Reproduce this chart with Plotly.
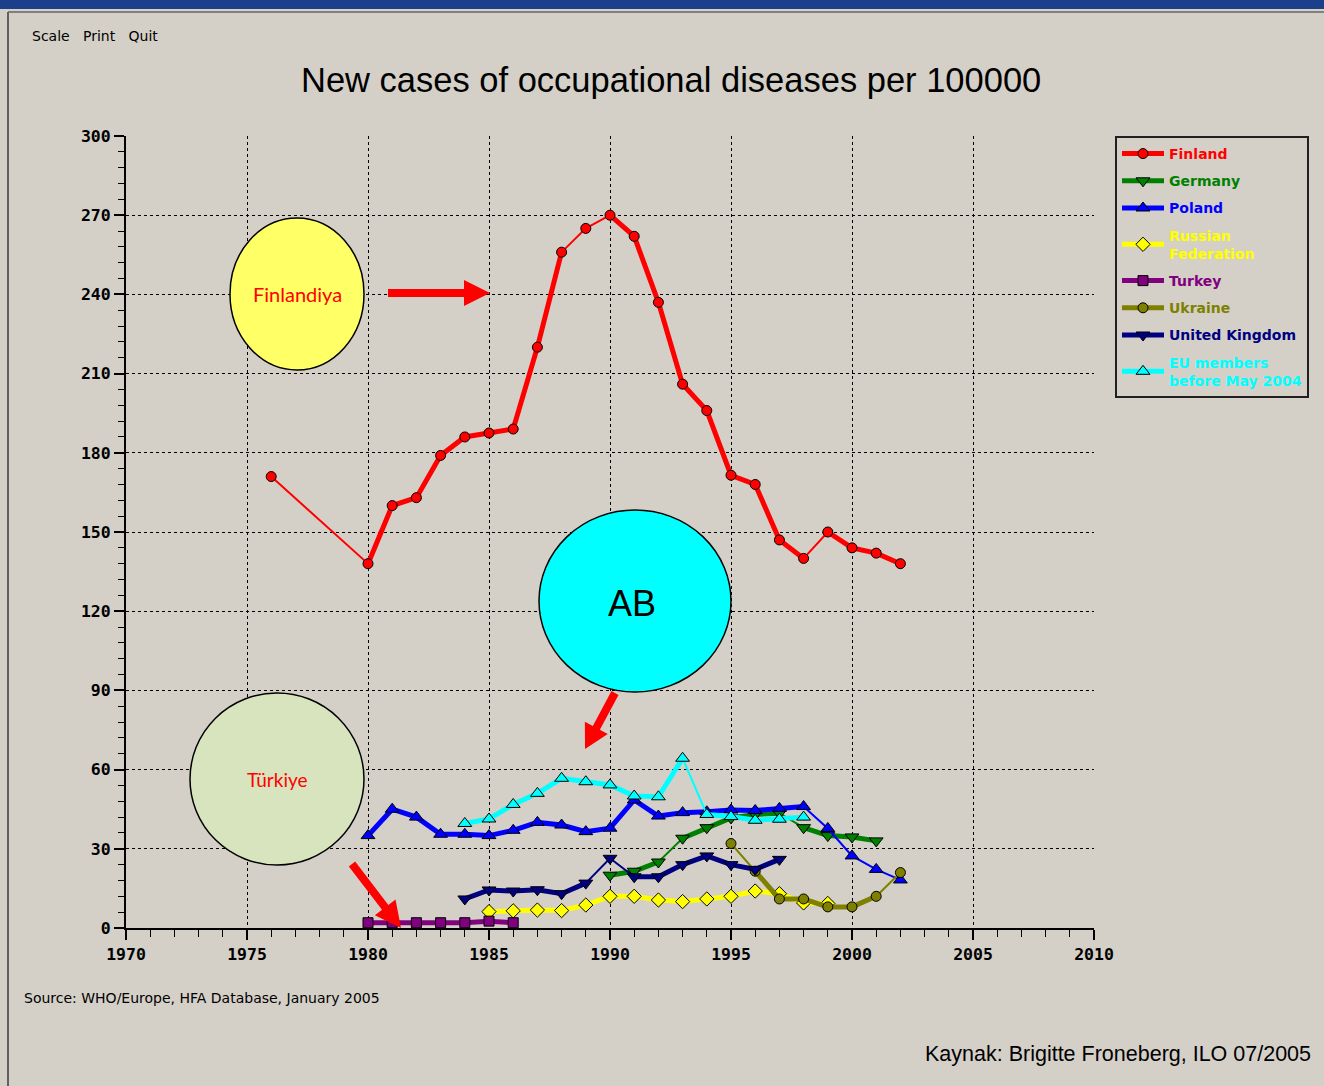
import math
import plotly.graph_objects as go

# ---------------- data ----------------
fin_years = [1976, 1980, 1981, 1982, 1983, 1984, 1985, 1986, 1987, 1988, 1989, 1990,
             1991, 1992, 1993, 1994, 1995, 1996, 1997, 1998, 1999, 2000, 2001, 2002]
fin_vals = [171, 138, 160, 163, 179, 186, 187.5, 189, 220, 256, 265, 270,
            262, 237, 206, 196, 171.5, 168, 147, 140, 150, 144, 142, 138]

ger_years = [1990, 1991, 1992, 1993, 1994, 1995, 1996, 1997, 1998, 1999, 2000, 2001]
ger_vals = [20, 21.5, 25, 34, 38, 41.7, 43, 43.5, 38, 35, 34.5, 33]

pol_years = list(range(1980, 2003))
pol_vals = [35, 45, 42, 35.5, 35.5, 35, 37, 40, 39, 36.5, 37.8, 48.5,
            42.4, 43.7, 44, 44.7, 44.5, 45.3, 46, 37.7, 27.3, 22.2, 18.2]

rus_years = list(range(1985, 2000))
rus_vals = [6.2, 6.5, 6.8, 6.6, 8.7, 12, 12, 10.6, 10, 11, 12, 14, 13, 9.5, 9.3]

tur_years = [1980, 1981, 1982, 1983, 1984, 1985, 1986]
tur_vals = [2, 2, 2, 2, 2, 2.6, 2]

ukr_years = [1995, 1996, 1997, 1998, 1999, 2000, 2001, 2002]
ukr_vals = [32, 21.5, 11, 11, 8, 8, 12, 21]

uk_years = [1984, 1985, 1986, 1987, 1988, 1989, 1990, 1991, 1992, 1993, 1994, 1995, 1996, 1997]
uk_vals = [11, 14.4, 14, 14.5, 13, 17, 26.4, 19.4, 19.4, 24, 27.3, 24, 22.2, 26]

eu_years = [1984, 1985, 1986, 1987, 1988, 1989, 1990, 1991, 1992, 1993, 1994, 1995, 1996, 1997, 1998]
eu_vals = [39.6, 41.3, 46.8, 51, 56.7, 55.4, 54.2, 50, 49.7, 64.3, 43, 42.2, 40.8, 41.2, 42]

x_ticks = [1970, 1975, 1980, 1985, 1990, 1995, 2000, 2005, 2010]
y_ticks = [0, 30, 60, 90, 120, 150, 180, 210, 240, 270, 300]

# (name, years, values, color, symbol, size, years where the following segment is thin)
series = [
    ("Finland", fin_years, fin_vals, "#ff0000", "circle", 10, [1976, 1988, 1989, 1998]),
    ("Germany", ger_years, ger_vals, "#008000", "triangle-down", 12, [1992, 1997]),
    ("Poland", pol_years, pol_vals, "#0000ff", "triangle-up", 12, [1998, 1999, 2000, 2001]),
    ("Russian<br>Federation", rus_years, rus_vals, "#ffff00", "diamond", 11, []),
    ("Turkey", tur_years, tur_vals, "#800080", "square", 10, []),
    ("Ukraine", ukr_years, ukr_vals, "#808000", "circle", 10, [1995, 2001]),
    ("United Kingdom", uk_years, uk_vals, "#000080", "triangle-down", 12, [1989, 1990]),
    ("EU members<br>before May 2004", eu_years, eu_vals, "#00ffff", "triangle-up", 12, [1993]),
]

# ---------------- geometry helpers ----------------
W, H = 1324, 1086
L, R, T, B = 126, 1094, 136, 928
BG = "#d4d0c8"


def px(x):
    return (x - L) / (R - L)


def py(y):
    return (B - y) / (B - T)


fig = go.Figure()

for name, yrs, vals, col, sym, sz, thin in series:
    fig.add_trace(go.Scatter(x=yrs, y=vals, mode="lines", line=dict(color=col, width=2),
                             showlegend=False, hoverinfo="skip"))
    xs, ys = [], []
    for i, (xx, yy) in enumerate(zip(yrs, vals)):
        xs.append(xx)
        ys.append(yy)
        if xx in thin and i < len(yrs) - 1:
            xs.append(None)
            ys.append(None)
    fig.add_trace(go.Scatter(
        x=xs, y=ys, mode="lines+markers", connectgaps=False,
        name="<b><span style='color:%s'>%s</span></b>" % (col, name),
        legendgroup=name,
        line=dict(color=col, width=5),
        marker=dict(symbol=sym, size=sz, color=col, line=dict(color="black", width=1)),
    ))

shapes = []
annotations = []

# window chrome
shapes.append(dict(type="rect", xref="paper", yref="paper", x0=px(0), x1=px(W), y0=py(0), y1=py(9),
                   fillcolor="#1c3f8c", line=dict(width=0), layer="below"))
shapes.append(dict(type="line", xref="paper", yref="paper", x0=px(8), x1=px(W), y0=py(12), y1=py(12),
                   line=dict(color="#808080", width=2)))
shapes.append(dict(type="line", xref="paper", yref="paper", x0=px(8), x1=px(8), y0=py(12), y1=py(H),
                   line=dict(color="#606060", width=2)))


def circle(cx, cy, rx, ry, fill):
    shapes.append(dict(type="circle", xref="paper", yref="paper",
                       x0=px(cx - rx), x1=px(cx + rx), y0=py(cy + ry), y1=py(cy - ry),
                       fillcolor=fill, line=dict(color="black", width=1.5), layer="above"))


def arrow(x0, y0, x1, y1, sw, hl, hw):
    dx, dy = x1 - x0, y1 - y0
    ln = math.hypot(dx, dy)
    ux, uy = dx / ln, dy / ln
    nx, ny = -uy, ux
    bx, by = x1 - ux * hl, y1 - uy * hl
    pts = [
        (x0 + nx * sw / 2, y0 + ny * sw / 2),
        (bx + nx * sw / 2, by + ny * sw / 2),
        (bx + nx * hw, by + ny * hw),
        (x1, y1),
        (bx - nx * hw, by - ny * hw),
        (bx - nx * sw / 2, by - ny * sw / 2),
        (x0 - nx * sw / 2, y0 - ny * sw / 2),
    ]
    path = "M " + " L ".join("%f,%f" % (px(a), py(b)) for a, b in pts) + " Z"
    shapes.append(dict(type="path", xref="paper", yref="paper", path=path,
                       fillcolor="#ff0000", line=dict(width=0), layer="above"))


circle(297, 294, 67, 76, "#ffff66")
circle(635, 601, 96, 91, "#00ffff")
circle(277, 779, 87, 86, "#d7e4bd")
arrow(388, 293, 490, 293, 8, 26, 13)
arrow(615, 693, 585, 749, 8, 24, 13)
arrow(352, 864, 401, 928, 8, 26, 13)


def text(x, y, s, size, color="black", family="Liberation Sans", xanchor="center"):
    annotations.append(dict(x=px(x), y=py(y), xref="paper", yref="paper", text=s, showarrow=False,
                            font=dict(size=size, color=color, family=family),
                            xanchor=xanchor, yanchor="middle"))


text(297, 294, "Finlandiya", 20, "#ff0000", "Lato")
text(632, 603, "AB", 36, "black", "Liberation Sans")
text(277, 779, "Türkiye", 19, "#ff0000", "Lato")
text(671, 80, "New cases of occupational diseases per 100000", 34.5, "black", "Liberation Sans")
text(30, 36, "Scale&nbsp;&nbsp;&nbsp;Print&nbsp;&nbsp;&nbsp;Quit", 14, "black", "DejaVu Sans", "left")
text(22, 998, "Source: WHO/Europe, HFA Database, January 2005", 14, "black", "DejaVu Sans", "left")
text(1313, 1054, "Kaynak: Brigitte Froneberg, ILO 07/2005", 21.5, "black", "Liberation Sans", "right")

tickfont = dict(family="DejaVu Sans Mono", size=16.5, color="black", weight="bold")

fig.update_layout(
    width=W, height=H,
    margin=dict(l=L, r=W - R, t=T, b=H - B, pad=0),
    paper_bgcolor=BG, plot_bgcolor=BG,
    showlegend=True,
    legend=dict(x=px(1115), y=1, xanchor="left", yanchor="top",
                bgcolor=BG, bordercolor="#202020", borderwidth=2,
                font=dict(family="DejaVu Sans", size=14),
                itemwidth=42,
                tracegroupgap=6, itemclick=False),
    shapes=shapes, annotations=annotations,
    xaxis=dict(range=[1970, 2010], tickvals=x_ticks, ticktext=[str(v) for v in x_ticks],
               showgrid=True, gridcolor="black", griddash="dot", gridwidth=1,
               showline=True, linecolor="black", linewidth=2, zeroline=False,
               ticks="outside", ticklen=10, tickcolor="black", tickwidth=2,
               tickfont=tickfont,
               minor=dict(dtick=1, tick0=1970, ticks="outside", ticklen=7, tickcolor="black",
                          tickwidth=1, showgrid=False)),
    yaxis=dict(range=[0, 300], tickvals=y_ticks, ticktext=[str(v) for v in y_ticks],
               showgrid=True, gridcolor="black", griddash="dot", gridwidth=1,
               showline=True, linecolor="black", linewidth=2, zeroline=False,
               ticks="outside", ticklen=10, tickcolor="black", tickwidth=2,
               tickfont=tickfont,
               minor=dict(dtick=6, tick0=0, ticks="outside", ticklen=6, tickcolor="black",
                          tickwidth=1, showgrid=False)),
)

fig.write_html("out.html", config={"displayModeBar": False},
               post_script="document.body.style.margin='0';document.body.style.overflow='hidden';")
